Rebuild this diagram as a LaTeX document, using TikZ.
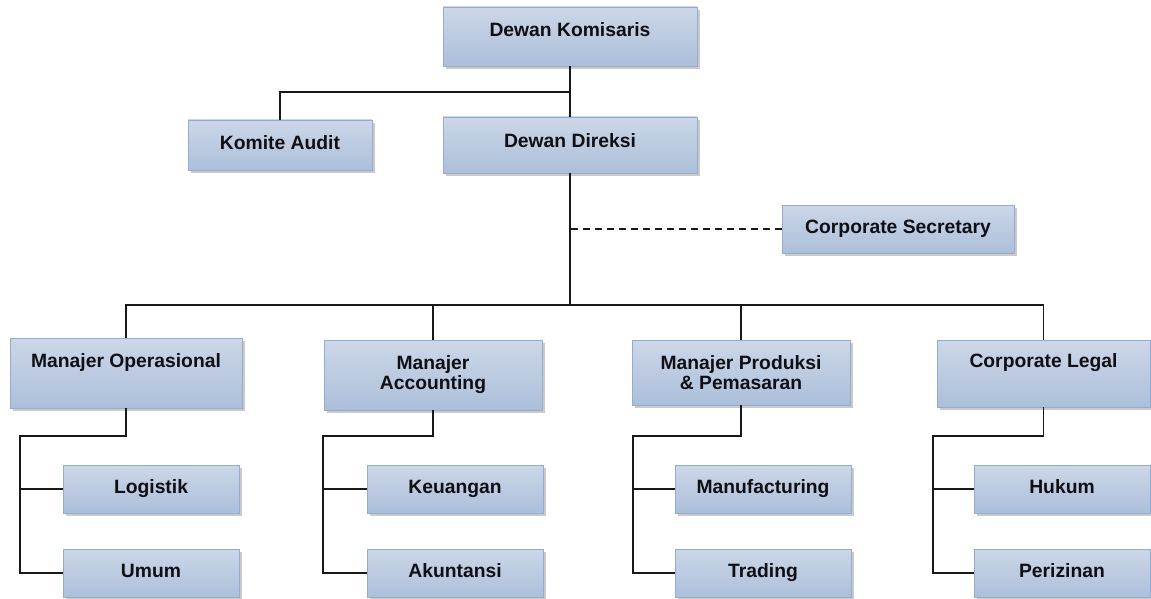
\documentclass[tikz,border=0pt]{standalone}
\usepackage{fontspec}
\setmainfont{Liberation Sans}
\usetikzlibrary{shadows}

\definecolor{boxtop}{RGB}{204,215,232}
\definecolor{boxbot}{RGB}{172,191,218}
\definecolor{boxline}{RGB}{150,172,206}
\definecolor{boxtext}{RGB}{15,15,22}

\tikzset{
  orgbox/.style={rectangle, inner sep=0pt, draw=boxline, line width=0.6pt,
    top color=boxtop, bottom color=boxbot,
    drop shadow={shadow xshift=3pt, shadow yshift=-3pt, fill=black!35, opacity=0.6},
    font=\bfseries\fontsize{19.3}{20}\selectfont, text=boxtext, align=center},
  smallbox/.style={orgbox, minimum width=176pt, minimum height=48pt,
    text height=13.5pt, text depth=4pt},
  link/.style={line width=1.5pt, black!90},
  dashlink/.style={link, dash pattern=on 7pt off 5pt}
}

\def\railY{436}
\def\childA{489}
\def\childB{573}

\begin{document}
\begin{tikzpicture}[x=1pt,y=-1pt]
\useasboundingbox (0,0) rectangle (1151,599);

% top of the chart
\node [orgbox, minimum width=254pt, text height=30pt, text depth=29pt] (komisaris) at (570,36.5) {Dewan Komisaris};
\node [orgbox, minimum width=184pt, minimum height=50pt, text height=13.5pt, text depth=4pt] (komite) at (280,145) {Komite Audit};
\node [orgbox, minimum width=254pt, text height=30pt, text depth=26pt] (direksi) at (570,145) {Dewan Direksi};
\node [smallbox, minimum width=232pt] (sekretaris) at (898,229) {Corporate Secretary};

% managers
\node [orgbox, minimum width=232pt, text height=29pt, text depth=41pt] (operasional) at (126,373) {Manajer Operasional};
\node [orgbox, minimum width=218pt, minimum height=70pt] (accounting) at (433,375) {Manajer\\Accounting};
\node [orgbox, minimum width=218pt, minimum height=65pt] (produksi) at (741,372.5) {Manajer Produksi\\\& Pemasaran};
\node [orgbox, minimum width=213pt, text height=27pt, text depth=40pt] (legal) at (1043.5,373.5) {Corporate Legal};

\coordinate (split) at (570,92);
\coordinate (bus) at (570,305);
\draw [link] (komisaris.south) -- (direksi.north);
\draw [link] (komite.north) |- (split);
\draw [link] (direksi.south) -- (bus);
\draw [dashlink] (sekretaris.west) -- (sekretaris.west -| bus);
\draw [link] (operasional.north) |- (bus) -| (legal.north);
\draw [link] (accounting.north) -- (accounting.north |- bus);
\draw [link] (produksi.north) -- (produksi.north |- bus);

% units under each manager
\foreach \m/\rail/\cx/\ca/\cb in {operasional/20/151/Logistik/Umum,
    accounting/323/455/Keuangan/Akuntansi,
    produksi/633/763/Manufacturing/Trading,
    legal/933/1062/Hukum/Perizinan}
{
  \node [smallbox] (\m-a) at (\cx,\childA) {\ca};
  \node [smallbox] (\m-b) at (\cx,\childB) {\cb};
  \coordinate (\m-rail) at (\rail,\railY);
  \draw [link] (\m.south) |- (\m-rail) |- (\m-b.west);
  \draw [link] (\m-rail |- \m-a.west) -- (\m-a.west);
}
\end{tikzpicture}
\end{document}
